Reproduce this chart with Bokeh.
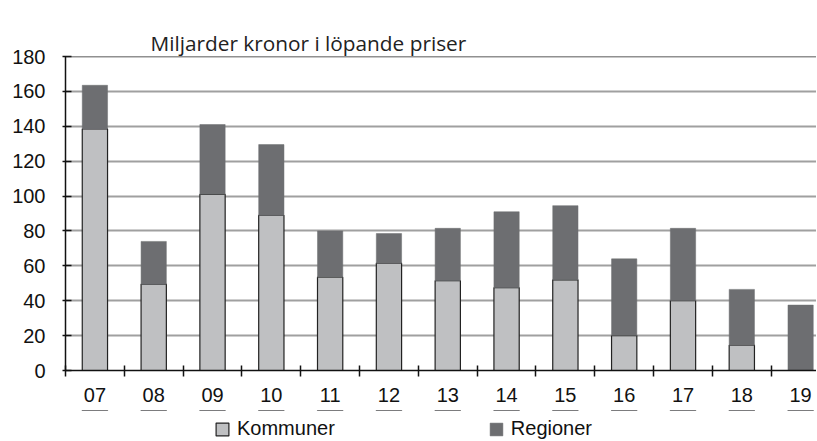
from bokeh.plotting import figure
from bokeh.layouts import column
from bokeh.models import (Range1d, FixedTicker, Span, Legend, LegendItem, Title,
                          ColumnDataSource)
from bokeh.embed import file_html
from bokeh.resources import INLINE

years = ["07", "08", "09", "10", "11", "12", "13", "14", "15", "16", "17", "18", "19"]
kommuner = [138.5, 49.5, 101, 89, 53.5, 61.5, 51.5, 47.5, 52, 20, 40, 14.5, 0]
regioner = [25, 24.5, 40, 40.5, 26.5, 17, 30, 43.5, 42.5, 44, 41.5, 32, 37.5]
y_ticks = [0, 20, 40, 60, 80, 100, 120, 140, 160, 180]
title_text = "Miljarder kronor i löpande priser"
series_names = ["Kommuner", "Regioner"]

xs = list(range(len(years)))
src = ColumnDataSource(dict(x=xs, kommuner=kommuner, regioner=regioner))

FONT = "Liberation Sans"
LIGHT = "#bfc0c2"
DARK = "#6d6e71"
FILLS = [LIGHT, DARK]
LINES = ["#222222", DARK]
LWS = [1.2, 0.5]

p = figure(frame_width=751, frame_height=314, output_backend="svg", toolbar_location=None,
           x_range=Range1d(-0.5, 12.27), y_range=Range1d(0, 180), title=None,
           min_border_left=65, min_border_right=0, min_border_top=56,
           min_border_bottom=40)
p.outline_line_color = None
p.background_fill_color = "white"
p.border_fill_color = "white"

# visible title, then an invisible spacer between it and the frame
p.add_layout(Title(text=title_text, align="left", offset=85,
                   text_font="Open Sans", text_font_size="20.8px",
                   text_font_style="normal", text_color="#222222", standoff=0), "above")
p.add_layout(Title(text=".", text_alpha=0, text_font_size="1px", standoff=18), "above")

r = p.vbar_stack(["kommuner", "regioner"], x="x", width=0.43, source=src,
                 fill_color=FILLS, line_color=LINES, line_width=LWS)

# grid
p.xgrid.visible = False
p.ygrid.ticker = FixedTicker(ticks=y_ticks)
p.ygrid.grid_line_color = "#a0a0a0"
p.ygrid.grid_line_width = 2
p.add_layout(Span(location=180, dimension="width", line_color="#222222", line_width=1.5))

# y axis
ya = p.yaxis[0]
ya.ticker = FixedTicker(ticks=y_ticks)
ya.axis_line_color = "#111111"
ya.axis_line_width = 1.5
ya.major_tick_in = 6
ya.major_tick_out = 3
ya.major_tick_line_color = "#111111"
ya.major_tick_line_width = 1.5
ya.minor_tick_line_color = None
ya.major_label_standoff = 17
ya.major_label_text_font = FONT
ya.major_label_text_font_size = "20px"
ya.major_label_text_color = "#111111"

# x axis
xa = p.xaxis[0]
xa.ticker = FixedTicker(ticks=xs, minor_ticks=[i - 0.5 for i in xs])
xa.major_label_overrides = {i: y for i, y in enumerate(years)}
xa.axis_line_color = "#111111"
xa.axis_line_width = 1.5
xa.major_tick_line_color = None
xa.major_tick_in = 0
xa.major_tick_out = 0
xa.minor_tick_in = 5
xa.minor_tick_out = 6
xa.minor_tick_line_color = "#111111"
xa.minor_tick_line_width = 1.5
xa.major_label_standoff = 11
xa.major_label_text_font = FONT
xa.major_label_text_font_size = "20px"
xa.major_label_text_color = "#111111"

# legend strip below the chart (bars here lie outside its y range, only the legend shows)
p2 = figure(frame_width=751, frame_height=29, output_backend="svg", toolbar_location=None,
            x_axis_type=None, y_axis_type=None, title=None,
            x_range=Range1d(-0.5, 12.27), y_range=Range1d(-20, -10),
            min_border_left=65, min_border_right=0, min_border_top=0,
            min_border_bottom=0)
p2.outline_line_color = None
p2.background_fill_color = "white"
p2.border_fill_color = "white"
p2.xgrid.visible = False
p2.ygrid.visible = False
r2 = p2.vbar_stack(["kommuner", "regioner"], x="x", width=0.43, source=src,
                   fill_color=FILLS, line_color=LINES, line_width=LWS)
legend = Legend(items=[LegendItem(label=series_names[i], renderers=[r2[i]])
                       for i in range(2)],
                orientation="horizontal", location=(149, -1),
                glyph_width=16, glyph_height=16, label_standoff=7, spacing=153,
                padding=0, margin=0, border_line_color=None,
                background_fill_alpha=0,
                label_text_font=FONT, label_text_font_size="20px",
                label_text_color="#111111")
p2.add_layout(legend, "center")

layout = column(p, p2, spacing=0)
open("out.html", "w").write(file_html(layout, INLINE))
